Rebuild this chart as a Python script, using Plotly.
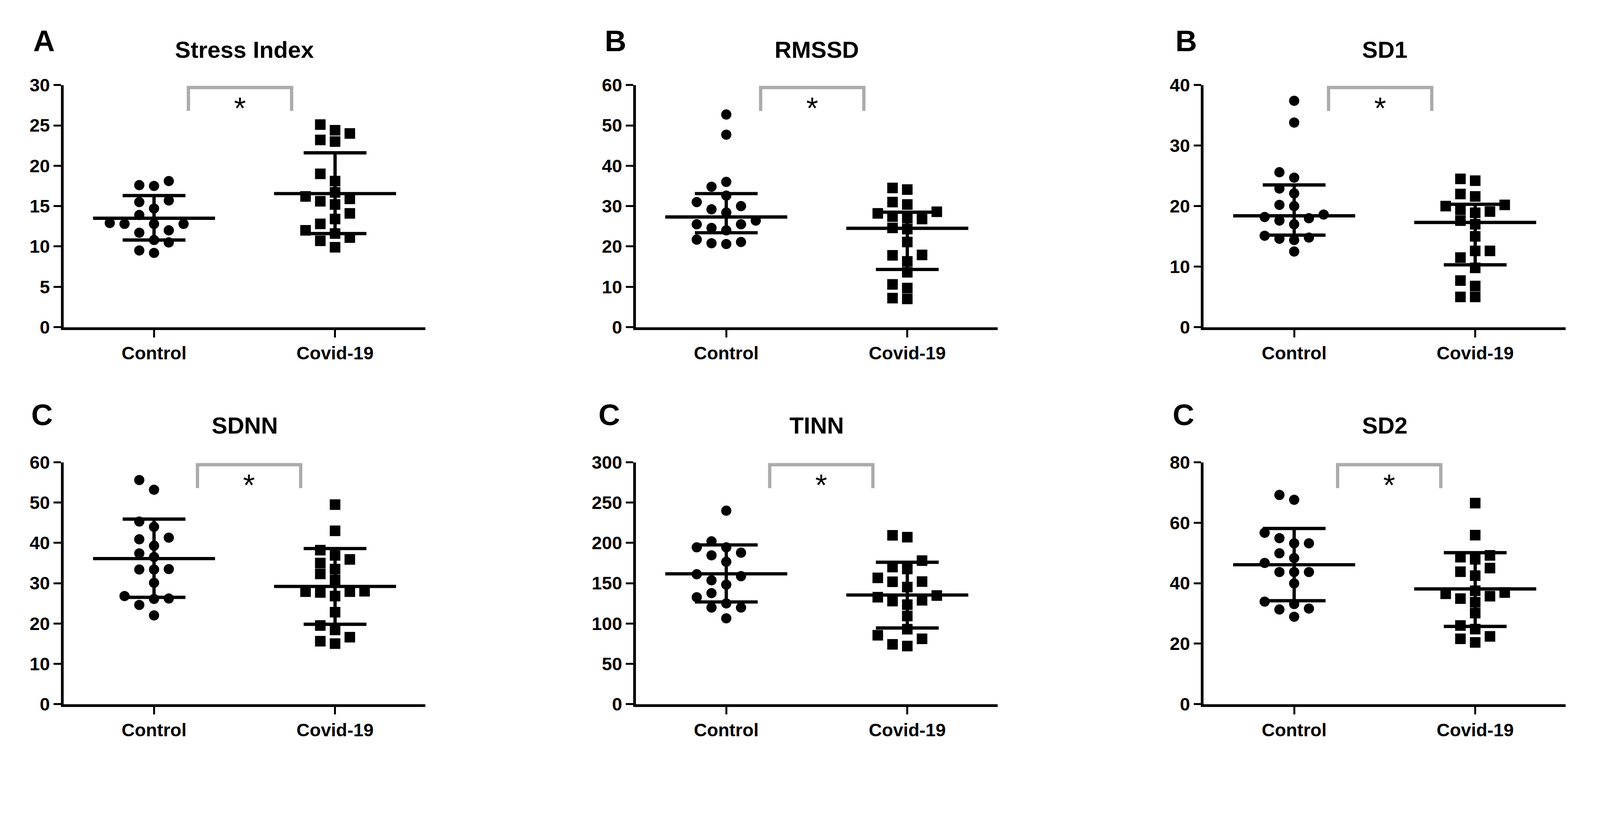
import plotly.graph_objects as go
from plotly.subplots import make_subplots

groups = ["Control", "Covid-19"]

# values
stress_control = [18.1, 17.5, 17.6, 15.5, 15.7, 14.7, 13.9, 12.9, 12.8, 12.8, 12.8,
                  12.0, 11.7, 10.5, 10.8, 9.2, 9.5]
stress_covid = [24.4, 25.1, 24.0, 23.2, 23.0, 19.0, 18.1, 16.7, 16.2, 15.9, 15.6,
                15.2, 14.1, 13.4, 12.8, 12.0, 11.6, 11.1, 10.7, 9.9]
stress_median = [13.5, 16.55]
stress_q1 = [10.8, 11.6]
stress_q3 = [16.3, 21.6]

rmssd_control = [52.7, 47.7, 36.0, 34.8, 32.6, 31.0, 30.0, 29.2, 28.4, 26.4, 25.5,
                 25.5, 24.6, 24.0, 21.7, 21.1, 20.6, 20.8]
rmssd_covid = [34.5, 34.1, 31.0, 30.4, 28.6, 28.2, 27.4, 26.8, 27.0, 24.3, 24.6,
               21.1, 17.9, 17.8, 16.3, 13.6, 10.6, 9.7, 7.0, 7.2]
rmssd_median = [27.3, 24.5]
rmssd_q1 = [23.4, 14.3]
rmssd_q3 = [33.1, 28.5]

sd1_control = [37.4, 33.8, 25.6, 24.7, 22.9, 22.1, 20.0, 20.2, 18.2, 18.6, 17.6,
               17.0, 18.0, 15.1, 14.8, 14.4, 14.6, 12.5]
sd1_covid = [24.5, 24.2, 22.0, 21.6, 20.2, 20.0, 19.4, 19.1, 18.9, 17.6, 17.0,
             15.0, 12.6, 12.6, 11.5, 9.8, 7.7, 6.8, 5.0, 5.0]
sd1_median = [18.4, 17.3]
sd1_q1 = [15.2, 10.3]
sd1_q3 = [23.5, 20.3]

sdnn_control = [55.6, 53.2, 45.3, 44.0, 40.9, 41.3, 39.3, 37.4, 36.5, 33.4, 33.4,
                33.5, 30.1, 26.2, 26.1, 26.8, 24.6, 22.0]
sdnn_covid = [49.5, 43.0, 38.2, 36.9, 35.9, 35.0, 33.5, 32.3, 30.8, 28.0, 27.9,
              27.7, 27.9, 26.8, 22.8, 19.5, 18.4, 16.6, 15.6, 15.0]
sdnn_median = [36.1, 29.2]
sdnn_q1 = [26.5, 19.8]
sdnn_q3 = [45.9, 38.6]

tinn_control = [240, 202, 194.5, 194.5, 184.6, 187.9, 176.6, 158.7, 161.1, 153.6,
                148.2, 137.7, 132.6, 124.9, 119.8, 119.8, 106.4]
tinn_covid = [209.4, 207.1, 178, 167.6, 170, 152, 156.6, 151.8, 145.2, 134.7, 128.8,
              132.6, 127.8, 123.4, 109.3, 92.9, 85.4, 81, 74.1, 72]
tinn_median = [161.6, 135.3]
tinn_q1 = [126.7, 94.4]
tinn_q3 = [197.5, 176]

sd2_control = [69.2, 67.6, 56.7, 54.9, 53.2, 53.2, 49.9, 48.3, 46.7, 43.7, 43.7,
               43.7, 39.9, 33.9, 33.1, 31.6, 31.3, 28.9]
sd2_covid = [66.5, 55.9, 49.2, 47.9, 48.6, 45.0, 43.8, 42.5, 36.9, 37.5, 35.7,
             36.5, 34.9, 33.7, 30.1, 26.0, 24.8, 22.4, 21.6, 20.4]
sd2_median = [46.1, 38.1]
sd2_q1 = [34.2, 25.7]
sd2_q3 = [58.1, 50.1]

titles = ["Stress Index", "RMSSD", "SD1", "SDNN", "TINN", "SD2"]
letters = ["A", "B", "B", "C", "C", "C"]
y_max = [30, 60, 40, 60, 300, 80]
y_dtick = [5, 10, 10, 10, 50, 20]

panels = [
    (stress_control, stress_covid, stress_median, stress_q1, stress_q3),
    (rmssd_control, rmssd_covid, rmssd_median, rmssd_q1, rmssd_q3),
    (sd1_control, sd1_covid, sd1_median, sd1_q1, sd1_q3),
    (sdnn_control, sdnn_covid, sdnn_median, sdnn_q1, sdnn_q3),
    (tinn_control, tinn_covid, tinn_median, tinn_q1, tinn_q3),
    (sd2_control, sd2_covid, sd2_median, sd2_q1, sd2_q3),
]

# the page comes out magnified in the screenshot, so map screenshot px -> css px
KX, KY = 1.0854, 1.052
OX, OY = 2.0, 34.6
FW, FH = 4082, 1946


def fx(p):
    return (p / KX - OX) / FW


def fy(p):
    return 1 - (p / KY - OY) / FH


def s(v):
    return v / 1.07


FONT = "Liberation Sans, Arial, sans-serif"

# pixel layout of the six panels (screenshot px)
col_left = [170, 1760, 3338]
panel_w = 1006
row_top = [235, 1279]
row_bot = [905, 1948]
title_y = [137, 1177]
letter_y = [113, 1147]
letter_x = [[116, 1704, 3289], [110, 1686, 3282]]
bracket_x = [(0.19, 0.76), (0.24, 0.81)]

STEP = 41 / 503  # horizontal spacing of the scatter columns, in category units
DIAM = 30        # px, min vertical gap of two points in one column


def swarm(vals, ymax):
    """Prism-like column scatter: spread overlapping points sideways."""
    px_per_unit = (row_bot[0] - row_top[0]) / ymax
    order = sorted(range(len(vals)), key=lambda i: vals[i])
    placed = []
    offs = [0.0] * len(vals)
    for i in order:
        ypx = vals[i] * px_per_unit
        for k in [0, -1, 1, -2, 2, -3, 3, -4, 4, -5, 5]:
            if all(not (c == k and abs(ypx - y) < DIAM) for c, y in placed):
                break
        placed.append((k, ypx))
        offs[i] = k * STEP
    return offs


fig = make_subplots(rows=2, cols=3)

for n, (ctrl, cov, med, q1, q3) in enumerate(panels):
    r, c = n // 3, n % 3
    ax = "" if n == 0 else str(n + 1)

    for g, (vals, sym, size) in enumerate([(ctrl, "circle", 28), (cov, "square", 29)]):
        offs = swarm(vals, y_max[n])
        fig.add_trace(go.Scatter(
            x=[g + o for o in offs], y=vals, mode="markers",
            marker=dict(symbol=sym, size=s(size), color="black"),
            cliponaxis=False, hoverinfo="y",
        ), row=r + 1, col=c + 1)

    # median line
    for g in range(2):
        fig.add_trace(go.Scatter(
            x=[g - 0.337, g + 0.337], y=[med[g], med[g]], mode="lines",
            line=dict(color="black", width=s(9)), hoverinfo="skip",
        ), row=r + 1, col=c + 1)

    # interquartile range bars
    fig.add_trace(go.Scatter(
        x=[0, 1], y=med, mode="markers",
        marker=dict(size=1, color="black"),
        error_y=dict(type="data", symmetric=False,
                     array=[q3[g] - med[g] for g in range(2)],
                     arrayminus=[med[g] - q1[g] for g in range(2)],
                     color="black", thickness=s(9), width=s(86)),
        hoverinfo="skip",
    ), row=r + 1, col=c + 1)

    x0 = col_left[c]
    fig.layout["xaxis" + ax].update(
        domain=[fx(x0), fx(x0 + panel_w)],
        range=[-0.5, 1.5], tickvals=[0, 1], ticktext=groups,
        showline=True, linewidth=s(7), linecolor="black",
        ticks="outside", ticklen=s(21), tickwidth=s(5), tickcolor="black",
        showgrid=False, zeroline=False,
        tickfont=dict(family=FONT, size=s(50), color="black", weight="bold"),
    )
    fig.layout["yaxis" + ax].update(
        domain=[fy(row_bot[r]), fy(row_top[r])],
        range=[0, y_max[n]], dtick=y_dtick[n],
        showline=True, linewidth=s(7), linecolor="black",
        ticks="outside", ticklen=s(20), tickwidth=s(5), tickcolor="black",
        showgrid=False, zeroline=False,
        tickfont=dict(family=FONT, size=s(50), color="black", weight="bold"),
    )

    # significance bracket
    bx0, bx1 = bracket_x[r]
    xr, yr = "x" + ax, "y" + ax + " domain"
    fig.add_shape(type="path", xref=xr, yref=yr,
                  path=f"M {bx0},0.893 L {bx0},0.99 L {bx1},0.99 L {bx1},0.893",
                  line=dict(color="#ababab", width=s(9)))
    fig.add_annotation(x=(bx0 + bx1) / 2, y=0.905, xref=xr, yref=yr,
                       text="*", showarrow=False, xanchor="center", yanchor="middle",
                       font=dict(family=FONT, size=s(84), color="black"))

    # panel title and letter
    fig.add_annotation(x=fx(x0 + panel_w / 2), y=fy(title_y[r]),
                       xref="paper", yref="paper", text=titles[n], showarrow=False,
                       xanchor="center", yanchor="middle",
                       font=dict(family=FONT, size=s(64), color="black", weight="bold"))
    fig.add_annotation(x=fx(letter_x[r][c]), y=fy(letter_y[r]),
                       xref="paper", yref="paper", text=letters[n], showarrow=False,
                       xanchor="center", yanchor="middle",
                       font=dict(family=FONT, size=s(82), color="black", weight="bold"))

fig.update_layout(
    width=FW, height=FH,
    margin=dict(l=0, r=0, t=0, b=0),
    paper_bgcolor="white", plot_bgcolor="white",
    showlegend=False,
)

fig.write_html("out.html")
